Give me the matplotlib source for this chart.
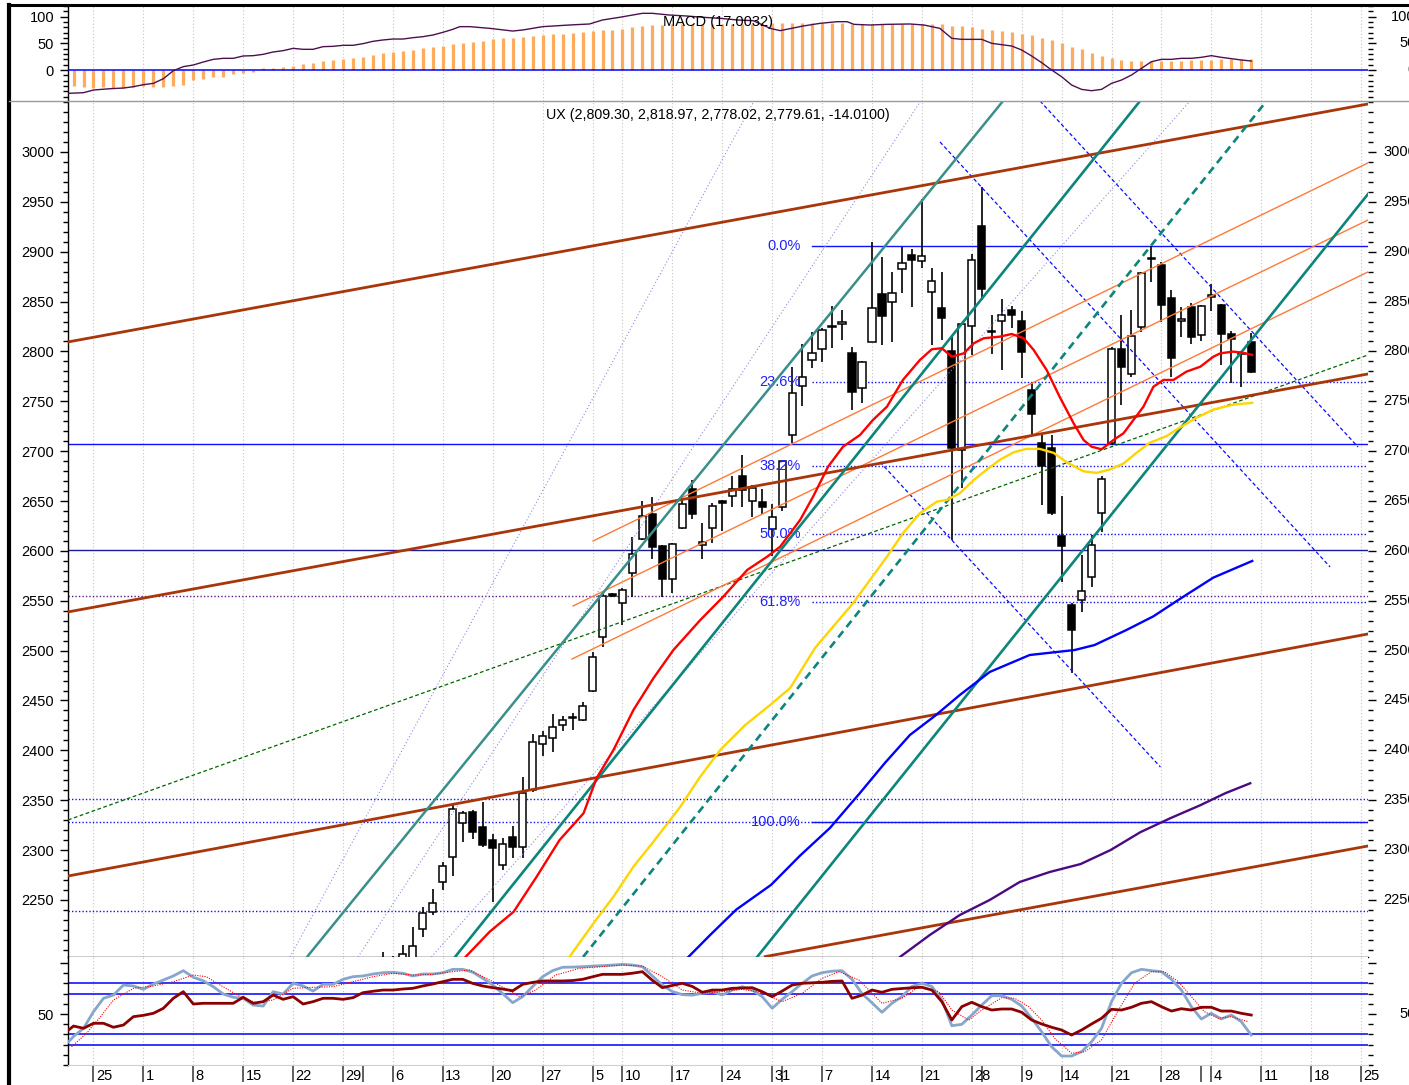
import matplotlib
matplotlib.use("Agg")
import matplotlib.pyplot as plt
from matplotlib.lines import Line2D
from matplotlib.patches import Rectangle
from matplotlib.ticker import MultipleLocator, FixedLocator
import matplotlib.transforms as mtransforms

plt.rcParams['font.family'] = ['Liberation Sans', 'DejaVu Sans']
plt.rcParams['font.size'] = 10

# ---------------- data ----------------
candle_idx = list(range(31, 119))
opens = [2176, 2186, 2186, 2190, 2220.6, 2237.6, 2267.7, 2292.8, 2327.5, 2338.2,
         2323.5, 2310.2, 2285.0, 2312.8, 2303.5, 2360.3, 2406.4, 2412.2, 2425.5, 2432.0,
         2430.5, 2459.3, 2513.4, 2556.5, 2548.2, 2578.2, 2611.7, 2636.8, 2604.9, 2571.8,
         2622.7, 2661.8, 2605.9, 2622.7, 2650.1, 2655.1, 2675.1, 2650.1, 2648.8, 2622.0,
         2644.4, 2716.2, 2765.4, 2791.4, 2802.2, 2824.5, 2827.3, 2798.2, 2763.1, 2809.2,
         2857.6, 2849.3, 2882.4, 2896.7, 2890.7, 2859.9, 2843.3, 2800.8, 2701.2, 2825.5,
         2926.1, 2819.0, 2830.9, 2841.6, 2830.9, 2761.4, 2707.9, 2702.9, 2614.9, 2545.8,
         2550.8, 2574.1, 2637.8, 2708.6, 2802.2, 2777.0, 2824.8, 2892.5, 2886.7, 2853.3,
         2831.0, 2844.3, 2816.5, 2855.0, 2846.6, 2817.5, 2798.5, 2809.30]
highs = [2198, 2194, 2205, 2223, 2242.6, 2260.7, 2288.4, 2345.2, 2339.2, 2340.2,
         2348.0, 2316.2, 2311.8, 2324.5, 2373.6, 2416.4, 2419.8, 2436.2, 2434.5, 2437.8,
         2448.2, 2499.0, 2557.5, 2557.5, 2562.5, 2614.3, 2650.1, 2654.5, 2605.5, 2607.6,
         2656.0, 2671.1, 2627.7, 2648.4, 2651.0, 2675.1, 2696.2, 2666.0, 2661.8, 2647.0,
         2690.0, 2784.1, 2807.5, 2819.8, 2823.0, 2845.6, 2841.6, 2804.8, 2790.5, 2909.5,
         2894.4, 2880.0, 2905.0, 2902.7, 2952.9, 2884.0, 2879.4, 2814.8, 2827.5, 2897.7,
         2964.6, 2836.6, 2852.3, 2845.6, 2840.9, 2769.7, 2716.2, 2716.0, 2655.1, 2548.0,
         2595.9, 2616.0, 2675.0, 2804.8, 2836.6, 2841.6, 2880.0, 2905.7, 2890.0, 2861.6,
         2844.9, 2848.9, 2847.0, 2867.6, 2848.0, 2820.8, 2800.0, 2818.97]
lows = [2160, 2172, 2180, 2184, 2212.5, 2235.0, 2260.0, 2274.4, 2308.4, 2311.1,
        2303.5, 2248.3, 2280.0, 2291.8, 2291.8, 2358.0, 2394.7, 2398.7, 2419.8, 2420.4,
        2429.5, 2459.0, 2504.0, 2554.0, 2525.7, 2554.1, 2611.0, 2591.6, 2553.5, 2557.5,
        2622.0, 2631.8, 2591.6, 2608.3, 2620.3, 2643.7, 2644.4, 2633.8, 2637.1, 2594.9,
        2640.0, 2707.9, 2745.3, 2783.7, 2789.7, 2803.2, 2811.5, 2741.3, 2748.6, 2809.0,
        2806.5, 2809.2, 2858.3, 2844.9, 2883.4, 2806.5, 2811.5, 2610.9, 2662.8, 2796.5,
        2851.6, 2797.5, 2781.4, 2823.2, 2773.0, 2716.2, 2646.1, 2636.0, 2569.1, 2477.6,
        2539.0, 2564.1, 2619.3, 2706.0, 2746.3, 2774.1, 2819.8, 2869.9, 2829.9, 2774.7,
        2814.2, 2807.5, 2810.8, 2840.9, 2786.4, 2768.7, 2764.6, 2778.02]
closes = [2188, 2180, 2196, 2204, 2236.6, 2246.6, 2284.0, 2340.9, 2336.9, 2318.0,
          2304.8, 2302.1, 2306.2, 2303.5, 2357.0, 2408.1, 2414.4, 2423.9, 2430.5, 2433.5,
          2444.8, 2494.1, 2554.8, 2555.0, 2560.8, 2596.9, 2635.3, 2603.6, 2571.8, 2606.6,
          2647.0, 2636.8, 2608.6, 2645.3, 2647.7, 2661.8, 2661.1, 2662.8, 2644.4, 2633.8,
          2689.7, 2758.0, 2774.7, 2798.2, 2821.5, 2825.5, 2830.0, 2759.7, 2789.7, 2843.3,
          2835.9, 2858.3, 2889.0, 2891.7, 2895.7, 2870.7, 2833.3, 2702.9, 2827.3, 2891.7,
          2862.3, 2820.5, 2836.6, 2836.6, 2799.8, 2737.0, 2685.1, 2637.8, 2604.9, 2520.7,
          2559.8, 2605.9, 2672.1, 2802.2, 2784.7, 2815.5, 2878.3, 2894.0, 2846.6, 2793.8,
          2832.0, 2814.8, 2845.6, 2856.0, 2817.5, 2812.2, 2797.5, 2779.61]

# moving averages
ma_red_x = [38.0, 39.3, 41.7, 44.1, 46.4, 48.7, 51.1, 52.4, 54.1, 56.1,
            58.1, 60.1, 62.8, 65.1, 67.5, 69.5, 70.8, 72.8, 74.1, 75.6,
            77.1, 78.8, 80.1, 81.5, 83.1, 84.8, 86.0, 87.0, 88.0, 89.2,
            90.2, 91.2, 92.8, 94.0, 95.2, 96.2, 97.5, 98.8, 100.2, 101.2,
            102.0, 103.0, 104.2, 105.2, 106.2, 107.2, 108.2, 109.2, 110.2, 111.5,
            112.9, 114.2, 114.9, 116.2, 117.1, 118.1]
ma_red_y = [2175, 2193.1, 2218.2, 2238.2, 2273.3, 2310.1, 2336.9, 2372.0, 2400.4, 2440.5,
            2472.3, 2500.6, 2530.7, 2554.1, 2580.9, 2594.2, 2604.2, 2631.0, 2654.4, 2684.4,
            2704.5, 2716.2, 2731.3, 2744.6, 2771.4, 2791.4, 2802.2, 2803.2, 2794.7, 2798.1,
            2808.2, 2813.2, 2814.8, 2817.5, 2813.2, 2801.5, 2781.4, 2754.6, 2728.0, 2711.2,
            2704.5, 2701.9, 2711.2, 2717.9, 2731.3, 2744.6, 2764.6, 2771.4, 2771.4, 2779.7,
            2784.7, 2794.7, 2798.1, 2799.8, 2798.8, 2796.5]
ma_yellow_x = [48.5, 49.7, 52.1, 54.1, 56.1, 58.1, 60.8, 62.7, 64.8, 67.3, 69.8, 71.8, 72.8,
               74.3, 76.1, 78.1, 79.8, 81.5, 83.1, 84.8, 86.5, 87.5, 88.8, 90.2, 91.5, 92.8,
               94.2, 95.5, 96.8, 98.2, 99.5, 101.2, 102.5, 103.8, 105.2, 106.5, 107.8, 109.5,
               110.8, 112.5, 114.2, 116.2, 118.1]
ma_yellow_y = [2175, 2193.1, 2226.6, 2253.3, 2283.4, 2308.4, 2343.5, 2372.3, 2400.4, 2425.4,
               2445.5, 2462.5, 2478.5, 2502.7, 2524.0, 2547.5, 2570.8, 2594.2, 2617.7, 2637.7,
               2649.4, 2651.1, 2657.8, 2671.1, 2681.5, 2691.2, 2698.9, 2702.3, 2702.3, 2698.3,
               2688.9, 2679.8, 2678.2, 2681.5, 2687.6, 2698.3, 2708.3, 2715.0, 2723.4, 2733.4,
               2741.7, 2746.7, 2748.4]
ma_blue_x = [60.5, 61.6, 63.8, 66.4, 69.9, 72.8, 75.8, 78.8, 81.3, 83.8, 86.3, 88.8, 91.8,
             95.8, 100.3, 102.3, 105.5, 108.2, 110.8, 114.2, 118.1]
ma_blue_y = [2180, 2192.8, 2215, 2240.3, 2265.2, 2294.5, 2322.3, 2357.3, 2387.4, 2415.4,
             2434.5, 2455.5, 2478.6, 2495.6, 2500.6, 2505.6, 2520.7, 2534.4, 2551.5, 2573.2,
             2589.9]
ma_purple_x = [81.5, 82.8, 85.8, 88.8, 91.8, 94.8, 97.8, 100.9, 103.9, 106.9, 109.9, 112.9,
               115.4, 117.9]
ma_purple_y = [2180, 2192.8, 2214.9, 2234.9, 2250, 2268, 2278, 2286, 2300, 2318, 2332, 2345,
               2357, 2367]

# drawn trend lines: (start bar, start price, end bar, end price)
brown_lines = [(-0.555, 2809.5, 129.7, 3048.1),
               (-0.555, 2538.8, 129.7, 2777.4),
               (-0.555, 2274.0, 129.7, 2516.7),
               (69.3, 2193.2, 129.7, 2304.1)]
teal_light_lines = [(23.39, 2192.8, 93.13, 3051.1)]
teal_lines = [(38.22, 2192.8, 106.86, 3051.1),
              (68.49, 2192.8, 129.7, 2957.8)]
teal_dashed_lines = [(51.05, 2192.8, 119.53, 3051.1)]
orange_lines = [(52.05, 2609.9, 129.7, 2989.0),
                (50.05, 2544.8, 129.7, 2931.8),
                (49.95, 2491.6, 129.7, 2879.7)]
lavender_lines = [(21.69, 2192.8, 68.18, 3051.1),
                  (28.5, 2192.8, 84.88, 3051.1),
                  (35.85, 2192.8, 111.87, 3051.1)]
green_lines = [(-0.555, 2330.2, 129.7, 2796.4)]
blue_down_lines = [(86.82, 3010.0, 125.9, 2583.9),
                   (96.84, 3051.1, 128.7, 2704.2),
                   (80.8, 2689.2, 108.9, 2383.3)]

# horizontal levels
hl_solid_blue = [2707.1]
hl_solid_navy = [2601.3]
hl_dotted_blue = [2351.3, 2328.6, 2238.9]
hl_dotted_purple = [2554.8]
fib_start = 74.0
fib_high, fib_low = 2905.7, 2328.6
fib_ratios = [0.0, 0.236, 0.382, 0.5, 0.618, 1.0]
fib_labels = ['0.0%', '23.6%', '38.2%', '50.0%', '61.8%', '100.0%']

# MACD
macd_hist = [-30, -32.5, -33.8, -32.5, -34.4, -34.4, -32.5, -30, -31.3, -32.5,
             -30, -28.1, -18.8, -16.3, -13.8, -12.5, -8.1, -6.3, -3.8, 3.1,
             4.4, 6.3, 8.1, 11.3, 13.8, 16.3, 18.1, 20.6, 23.1, 25,
             28.1, 31.3, 33.8, 36.3, 38.1, 40.6, 42.5, 45.6, 48.1, 50.6,
             53.1, 55, 57.5, 59.4, 59.4, 62.5, 63.8, 65, 67.5, 67.5,
             70, 70.6, 73.1, 75, 75, 76.9, 80, 82.5, 84.4, 85,
             86.3, 86.3, 86.3, 86.3, 86.3, 86.3, 86.3, 86.3, 86.3, 86.3,
             88.8, 87.5, 87.5, 87.5, 87.5, 87.5, 87.5, 87.5, 86.3, 86.3,
             86.3, 86.3, 86.3, 86.3, 86.3, 86.3, 86.3, 85.6, 83.1, 82.5,
             81.3, 77.5, 75, 73.1, 70.6, 68.1, 65.6, 60.6, 55.6, 50,
             43.1, 38.8, 31.3, 26.3, 21.9, 18.8, 16.3, 16.9, 16.9, 17.5,
             16.9, 16.9, 18.8, 18.8, 18.8, 21.3, 20.6, 20, 21.3]
macd_line_x = [-0.56, 1, 2, 3.7, 5, 6, 7, 8, 9, 10,
               11, 12, 13, 14, 15, 16, 17, 18, 19, 20,
               21, 22, 23, 24, 25, 26, 27, 28, 29, 30,
               31, 32, 33, 34, 35, 36, 37, 38,
               38.7, 39.7, 41.7, 44, 45, 47, 49.7, 51.7, 53, 54.7,
               57, 58, 59.7, 61.4, 63.1, 64.8, 66.5, 68.1, 69.8, 70.8,
               73.1, 74.8, 76.5, 77.5, 78.2, 79.8, 81.5, 83.8, 85.2, 86.8,
               88, 89, 91, 92, 94, 95, 96, 97, 98, 99,
               100, 101, 102, 103, 104, 105, 106, 107, 108, 109,
               110, 111, 112, 113, 114, 115, 116, 117, 118]
macd_line_y = [-43.8, -42.5, -37.5, -35, -33.8, -31.3, -27.5, -25, -16.3, -1.3,
               6.3, 9.4, 15, 20, 21.9, 21.9, 26.3, 26.9, 29.4, 33.8,
               36.3, 40.6, 38.8, 38.8, 43.8, 44.4, 46.3, 46.3, 49.4, 53.8,
               56.3, 58.1, 58.1, 60.6, 62.5, 65.6, 70.6, 76.3,
               81.3, 81.3, 78.1, 73.1, 75, 81.3, 84.4, 86.3, 93.8, 98.8,
               106.3, 106.3, 103.1, 101.3, 98.8, 96.9, 93.8, 92.5, 78.1, 73.8,
               82.5, 87.5, 90.6, 90.6, 85.6, 84.4, 85.6, 86.3, 84.4, 78.1,
               59.4, 57.5, 57.5, 50, 45, 37.5, 26.3, 13.8, 0, -12.5,
               -28.1, -36.3, -38.8, -36.3, -25, -18.8, -9.4, 3.1, 15.6, 20,
               20, 21.9, 21.9, 23.8, 26.9, 23.8, 21.3, 18.8, 16.9]

# oscillator panel
osc_x = [-0.5] + list(range(0, 119))
osc_rsi = [34.3,
           38.2, 36, 40.9, 40.9, 37, 39.2, 47.4, 48.7, 50.7, 55.6,
           65.4, 71.9, 59.8, 60.5, 60.5, 60.5, 60.5, 66.4, 60.5, 62.1,
           68.6, 64.4, 67, 59.8, 62.1, 65.4, 65.4, 64.4, 66, 70.9,
           72.3, 73.5, 73.5, 74.5, 75.2, 77.5, 79.4, 81.7, 84, 84,
           80, 77.5, 75.8, 74.5, 72.8, 79.1, 81, 82.4, 82.4, 82.4,
           82.8, 84, 86.5, 88.9, 88.9, 88.9, 90, 91.5, 83, 75.8,
           78, 80.1, 77, 71.3, 73.5, 73.5, 75.2, 75.5, 75.8, 71.9,
           67, 72.5, 78.4, 80.1, 80.6, 81.1, 82, 82.4, 65.4, 68.5,
           73.5, 71.3, 74.2, 75, 75.7, 76.2, 73.5, 62.1, 44.1, 57.2,
           61.5, 57.2, 53.9, 54.9, 54.9, 51.7, 44.1, 40.2, 37, 34.3,
           29.4, 34.3, 40.2, 45.8, 54.6, 53.9, 56.6, 60.5, 62.1, 57.2,
           52.9, 55.2, 53.9, 56.6, 56.6, 52.9, 52.9, 50.7, 49]
osc_k = [22.8,
         28, 36, 52.3, 65.4, 68.6, 78.4, 77.5, 74.2, 79.4, 83.3,
         87.3, 92.5, 86, 82.6, 76.8, 69.6, 66.4, 65.4, 58.8, 57.8,
         71.9, 69.6, 80.1, 77.5, 72.5, 79.1, 79.1, 84, 86.6, 87.3,
         89.2, 90.5, 90.9, 89.9, 87.3, 89.2, 89.2, 90.5, 93.8, 93.8,
         91, 85, 78.4, 70, 61.1, 67, 77, 86.6, 92.5, 95.8,
         96, 96.4, 97, 97.4, 98, 98.7, 98, 96.4, 87.3, 78.4,
         72, 69, 68.5, 70.3, 71.9, 68.6, 73.5, 76.8, 73.5, 67,
         55.6, 64.4, 72, 80, 87.3, 90.5, 92, 92.5, 84, 70,
         61, 51.7, 60.5, 67, 77, 80.1, 77, 64, 38.5, 39.9,
         49, 58.8, 67.9, 67.9, 64.4, 57.8, 45.8, 32.6, 17.9, 8.8,
         8.8, 13, 22.8, 36, 62.1, 80.1, 90.5, 93.8, 92.5, 91.5,
         84, 73.5, 57.2, 45.1, 50.7, 45.1, 49, 42.5, 29.4]
osc_d_x = [-0.2, 1.3, 2.7, 4, 6, 8, 10, 12, 13.3, 14.7,
           16.7, 18.3, 20, 22, 24, 26, 28, 30, 32, 34,
           36, 38, 39.7, 41.7, 44.7, 46.3, 48.3, 50.7, 55, 57,
           59, 61, 63, 65, 67, 69, 71, 73, 75, 76.7,
           78.7, 81, 83, 84.7, 86.7, 88, 89.7, 91, 93, 94.3,
           95.7, 97, 98.3, 100, 101.3, 103, 104.7, 106.3, 108, 109.3,
           110.7, 112, 113.3, 114.7, 116, 117.7]
osc_d = [17.9, 31.1, 47.4, 63.7, 75.2, 77.5, 81.7, 88.2, 86.6, 78.4,
         67, 61.1, 63.7, 75.2, 76.2, 76.8, 81.7, 86.6, 89.9, 88.2,
         88.9, 91.5, 93.1, 83.3, 67, 73.5, 88.2, 94.8, 98, 97,
         86.6, 73.5, 70.3, 71.9, 74.2, 70.9, 62.1, 70.3, 85, 91.5,
         83.3, 60.5, 65.4, 76.8, 71.9, 53.9, 44.1, 53.9, 66, 65.4,
         57.2, 44.1, 26.2, 11.5, 13, 24.5, 53.9, 80.1, 91.5, 91.5,
         81.7, 67, 52.3, 45.8, 47.4, 42.5]
osc_levels = [80, 70, 30, 20]

# x axis ticks (bar index) and labels
xtick_pos = [2, 7, 12, 17, 22, 27, 32, 37, 42, 47, 52, 55, 60, 65, 70, 75, 80, 85, 90,
             95, 99, 104, 109, 114, 119, 124, 129]
xtick_labels = ['25', '1', '8', '15', '22', '29', '6', '13', '20', '27', '5', '10', '17',
                '24', '31', '7', '14', '21', '28', '9', '14', '21', '28', '4', '11', '18', '25']
xtick_extra = [29, 71, 91, 113]

main_ticks = list(range(2250, 3001, 50))
macd_ticks = [0, 50, 100]
osc_ticks = [50, 100]
osc_tick_labels = ['50', '']

title_text = 'UX (2,809.30, 2,818.97, 2,778.02, 2,779.61, -14.0100)'
macd_text = 'MACD (17.0032)'

# ---------------- figure ----------------
W, H = 1409, 1085
fig = plt.figure(figsize=(W / 100, H / 100), dpi=100)
fig.patch.set_facecolor('white')


def rect(top, bottom):
    return [68 / W, 1 - bottom / H, 1300 / W, (bottom - top) / H]


ax_macd = fig.add_axes(rect(5, 101))
ax = fig.add_axes(rect(101, 957))
ax_st = fig.add_axes(rect(957, 1065))
XL = (-0.555, 129.7)
RIGHT_LABEL_X = (1416 - 68) / 1300  # right-aligned labels running off the figure edge

for a in (ax_macd, ax, ax_st):
    a.set_xlim(*XL)
    a.set_facecolor('white')
    for t in xtick_pos:
        a.axvline(t, color='#c4c4c4', lw=0.8, ls=(0, (1, 2)), zorder=0)
    a.spines['right'].set_visible(False)
    a.spines['top'].set_visible(False)
    a.spines['left'].set_color('black')
    a.spines['left'].set_linewidth(1.0)
    a.tick_params(axis='x', bottom=False, labelbottom=False, top=False)
    a.tick_params(axis='y', which='major', length=6, width=1.0, direction='out',
                  left=True, right=True, labelleft=True, labelright=False,
                  labelsize=10.5, pad=4)
    a.tick_params(axis='y', which='minor', length=3.6, width=1.0, direction='out',
                  left=True, right=True)

ax_macd.spines['bottom'].set_visible(False)
ax.spines['bottom'].set_color('black')
ax.spines['bottom'].set_linewidth(1.0)
ax_st.spines['bottom'].set_color('#d0d0d0')


def right_labels(a, vals, labels):
    tr = mtransforms.blended_transform_factory(a.transAxes, a.transData)
    for v, s in zip(vals, labels):
        if s:
            a.text(RIGHT_LABEL_X, v, s, transform=tr, ha='right', va='center',
                   fontsize=10.5, clip_on=False)


# ---- main panel ----
ax.set_ylim(2192.8, 3051.1)
ax.yaxis.set_major_locator(FixedLocator(main_ticks))
ax.yaxis.set_minor_locator(MultipleLocator(10))
right_labels(ax, main_ticks, [str(v) for v in main_ticks])

# horizontal levels
for v in hl_solid_blue:
    ax.axhline(v, color='#1010ff', lw=1.0, zorder=2)
for v in hl_solid_navy:
    ax.axhline(v, color='#1a1a9a', lw=1.0, zorder=2)
for v in hl_dotted_blue:
    ax.axhline(v, color='#1010ff', lw=1.0, ls=(0, (1, 1.5)), zorder=2)
for v in hl_dotted_purple:
    ax.axhline(v, color='#5a1a8a', lw=1.0, ls=(0, (1, 1.5)), zorder=2)
for r, lab in zip(fib_ratios, fib_labels):
    lv = fib_high - (fib_high - fib_low) * r
    solid = r in (0.0, 1.0)
    ax.plot([fib_start, XL[1]], [lv, lv], color='#1010ff', lw=1.0,
            ls='-' if solid else (0, (1, 1.5)), zorder=2)
    ax.text(fib_start - 1.15, lv, lab, color='#2020ff', fontsize=10.5,
            ha='right', va='center', zorder=6)

# candles
for i, o, h, l, c in zip(candle_idx, opens, highs, lows, closes):
    ax.plot([i, i], [l, h], color='black', lw=1.2, zorder=3, solid_capstyle='butt')
    up = c >= o
    bot = min(o, c)
    hgt = max(abs(c - o), 1.3)
    ax.add_patch(Rectangle((i - 0.36, bot), 0.72, hgt,
                           facecolor='white' if up else 'black',
                           edgecolor='black', lw=1.1, zorder=4))


def draw_lines(lines, **kw):
    for x0, y0, x1, y1 in lines:
        ax.plot([x0, x1], [y0, y1], **kw)


draw_lines(lavender_lines, color='#8a8ae6', lw=0.8, ls=(0, (1, 2)), zorder=5)
draw_lines(green_lines, color='#006400', lw=0.9, ls=(0, (3, 2)), zorder=5)
draw_lines(blue_down_lines, color='#0a0aff', lw=0.9, ls=(0, (3, 2)), zorder=5)
draw_lines(orange_lines, color='#ff7a3a', lw=1.0, zorder=5)
draw_lines(brown_lines, color='#a8360a', lw=2.0, zorder=6)
draw_lines(teal_light_lines, color='#3a8f8a', lw=1.8, zorder=6)
draw_lines(teal_lines, color='#0e857a', lw=1.9, zorder=6)
draw_lines(teal_dashed_lines, color='#0e857a', lw=1.9, ls=(0, (3, 2)), zorder=6)

ax.plot(ma_purple_x, ma_purple_y, color='#4b0a82', lw=1.7, zorder=7)
ax.plot(ma_blue_x, ma_blue_y, color='#0000ff', lw=1.7, zorder=7)
ax.plot(ma_yellow_x, ma_yellow_y, color='#ffd500', lw=1.7, zorder=7)
ax.plot(ma_red_x, ma_red_y, color='#ff0000', lw=1.7, zorder=7)

ax.text(0.5, 1 - 14 / 856, title_text, transform=ax.transAxes, ha='center', va='center',
        fontsize=10.3, zorder=8)

# ---- MACD panel ----
ax_macd.set_ylim(-58.1, 121.9)
ax_macd.yaxis.set_major_locator(FixedLocator(macd_ticks))
ax_macd.yaxis.set_minor_locator(MultipleLocator(10))
right_labels(ax_macd, macd_ticks, [str(v) for v in macd_ticks])
ax_macd.vlines(range(len(macd_hist)), 0, macd_hist, color='#ffab5e', lw=2.3, zorder=2)
ax_macd.axhline(0, color='#0000ff', lw=1.1, zorder=3)
ax_macd.plot(macd_line_x, macd_line_y, color='#4d104f', lw=1.0, zorder=4)
ax_macd.text(0.5, 1 - 17 / 96, macd_text, transform=ax_macd.transAxes, ha='center',
             va='center', fontsize=10.5, zorder=5)

# ---- oscillator panel ----
ax_st.set_ylim(0, 105.9)
ax_st.set_yticks(osc_ticks)
ax_st.set_yticklabels(osc_tick_labels)
ax_st.yaxis.set_minor_locator(MultipleLocator(10))
right_labels(ax_st, osc_ticks, osc_tick_labels)
for v in osc_levels:
    ax_st.axhline(v, color='#0000ff', lw=1.1, zorder=2)
ax_st.plot(osc_x, osc_k, color='#86a6cc', lw=2.0, zorder=3)
ax_st.plot(osc_d_x, osc_d, color='#ff0000', lw=0.8, ls=(0, (1, 1.2)), zorder=4)
ax_st.plot(osc_x, osc_rsi, color='#8b0000', lw=2.0, zorder=5)

# x ticks and labels
ax_st.set_xticks(xtick_pos + xtick_extra)
ax_st.tick_params(axis='x', bottom=True, labelbottom=False, length=12, width=1.2,
                  color='#444444', direction='out')
lab_tr = mtransforms.blended_transform_factory(ax_st.transData, ax_st.transAxes)
for p, lab in zip(xtick_pos, xtick_labels):
    ax_st.text(p + 0.25, -0.105, lab, transform=lab_tr, ha='left', va='center',
               fontsize=10.5, clip_on=False)

# frame lines
fig.add_artist(Line2D([9 / W, 9 / W], [0, 1 - 5 / H], color='black', lw=3,
                      transform=fig.transFigure))
fig.add_artist(Line2D([9 / W, 1], [1 - 5 / H, 1 - 5 / H], color='black', lw=2.2,
                      transform=fig.transFigure))
fig.add_artist(Line2D([9 / W, 1], [1 - 101 / H, 1 - 101 / H], color='#999999', lw=1.0,
                      transform=fig.transFigure))

fig.savefig('out.png', dpi=100)
